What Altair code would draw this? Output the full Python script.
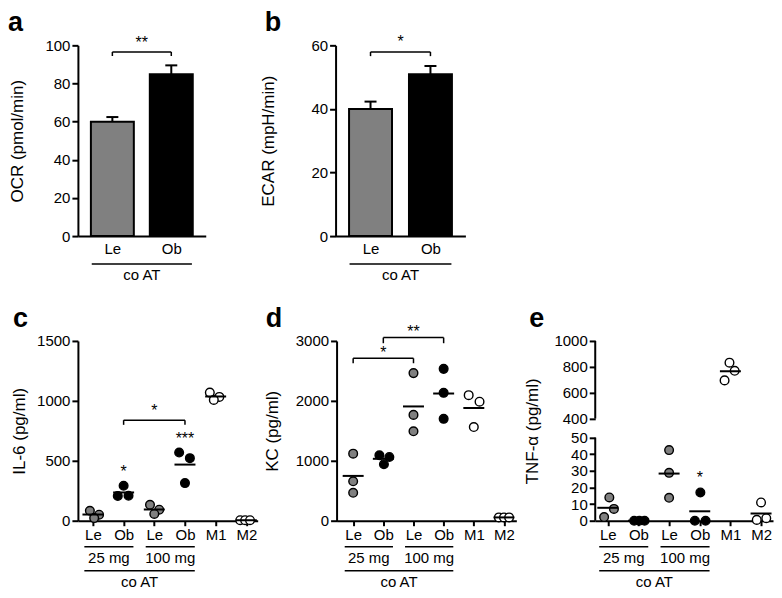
import json
import altair as alt
import pandas as pd

FONT = "Liberation Sans"
GRAY = "#808080"
KIND_DOMAIN = ["lean", "obese", "macro"]
KIND_RANGE = [GRAY, "black", "#ffffff"]

# ---------------- panels a and b (mean + SEM bars) ----------------
bar_groups = ["Le", "Ob"]
bar_kind = ["lean", "obese"]
ocr_mean = [60.0, 84.8]
ocr_sem = [2.4, 4.7]
ecar_mean = [40.0, 50.9]
ecar_sem = [2.3, 2.6]

# ---------------- panels c, d, e (dot plots) ----------------
dot_groups = ["Le", "Ob", "Le", "Ob", "M1", "M2"]
dot_kind = ["lean", "obese", "lean", "obese", "macro", "macro"]
il6_values = [[83, 50, 22], [292, 207, 208], [133, 92, 56], [569, 522, 314],
              [1069, 1033, 1008], [4, 4, 4]]
il6_jitter = [[-0.10, 0.20, 0.04], [0.00, -0.19, 0.16], [-0.14, 0.16, 0.00],
              [-0.19, 0.16, 0.00], [-0.19, 0.12, -0.06], [-0.20, -0.04, 0.12]]
kc_values = [[1119, 658, 466], [1092, 1064, 943], [2463, 1766, 1492],
             [2534, 2134, 1700], [2095, 1986, 1563], [55, 55, 55]]
kc_jitter = [[0, 0, 0], [-0.13, 0.20, 0.02], [0, 0, 0], [0, 0, 0],
             [-0.17, 0.19, 0.0], [-0.17, 0.0, 0.17]]
tnf_values = [[2.2, 14.0, 7.1], [0, 0, 0], [42.5, 28.8, 13.8], [17.0, 0, 0],
              [832, 769, 695], [11.0, 0.5, 1.5]]
tnf_jitter = [[-0.12, 0.05, 0.20], [-0.14, 0.03, 0.20], [0, 0, 0],
              [0.02, -0.16, 0.19], [-0.03, 0.14, -0.19], [0.0, -0.14, 0.17]]

# significance annotations
a_brackets = [{"x1": 0, "x2": 1, "y": 96.5, "yend": 94.4}]
a_stars = [{"x": 0.5, "y": 103, "t": "**"}]
b_brackets = [{"x1": 0, "x2": 1, "y": 57.9, "yend": 56.6}]
b_stars = [{"x": 0.5, "y": 61.9, "t": "*"}]
c_brackets = [{"x1": 1, "x2": 3, "y": 839, "yend": 800}]
c_stars = [{"x": 2, "y": 944, "t": "*"}, {"x": 1, "y": 431, "t": "*"},
           {"x": 3, "y": 708, "t": "***"}]
d_brackets = [{"x1": 0, "x2": 2, "y": 2710, "yend": 2628},
              {"x1": 1, "x2": 3, "y": 3056, "yend": 2962}]
d_stars = [{"x": 1, "y": 2852, "t": "*"}, {"x": 2, "y": 3192, "t": "**"}]
e_brackets = []
e_stars = [{"x": 3, "y": 27.3, "t": "*"}]

dose_labels = ["25 mg", "100 mg"]
dose_spans = [(-0.28, 1.32), (1.72, 3.32)]
group_label = "co AT"


def label_expr(names):
    return json.dumps(names) + "[datum.value]"


def kind_fill(field):
    return alt.Fill(field, scale=alt.Scale(domain=KIND_DOMAIN, range=KIND_RANGE), legend=None)


def letter_layer(letter, lx):
    return alt.Chart(pd.DataFrame({"t": [letter]})).mark_text(
        align="left", baseline="alphabetic", fontSize=27, fontWeight="bold",
        font=FONT, color="black").encode(
        x=alt.value(lx), y=alt.value(-14), text="t:N")


def annotation_layers(xs, ys, xaxis, yaxis, brackets, stars):
    layers = []
    if brackets:
        bdf = pd.DataFrame(brackets)
        layers.append(alt.Chart(bdf).mark_rule(strokeWidth=1.5, color="black").encode(
            x=alt.X("x1:Q", scale=xs, axis=xaxis), x2="x2:Q",
            y=alt.Y("y:Q", scale=ys, axis=yaxis)))
        layers.append(alt.Chart(bdf).transform_fold(["x1", "x2"], as_=["side", "xe"]).mark_rule(
            strokeWidth=1.5, color="black").encode(
            x=alt.X("xe:Q", scale=xs, axis=xaxis),
            y=alt.Y("y:Q", scale=ys, axis=yaxis), y2="yend:Q"))
    if stars:
        layers.append(alt.Chart(pd.DataFrame(stars)).mark_text(
            fontSize=16, font=FONT, baseline="middle", dy=3, color="black").encode(
            x=alt.X("x:Q", scale=xs, axis=xaxis),
            y=alt.Y("y:Q", scale=ys, axis=yaxis), text="t:N"))
    return layers


def underline_layers(xs, xaxis, spans, labels, y_line, y_text):
    df = pd.DataFrame({"x1": [s[0] for s in spans], "x2": [s[1] for s in spans],
                       "label": labels})
    df["xm"] = (df["x1"] + df["x2"]) / 2
    rule = alt.Chart(df).mark_rule(strokeWidth=1.5, color="black").encode(
        x=alt.X("x1:Q", scale=xs, axis=xaxis), x2="x2:Q", y=alt.value(y_line))
    text = alt.Chart(df).mark_text(fontSize=15, font=FONT, baseline="middle",
                                   color="black").encode(
        x=alt.X("xm:Q", scale=xs, axis=xaxis), y=alt.value(y_text), text="label:N")
    return [rule, text]


def bar_panel(means, sems, ytitle, ymax, yvals, letter, lx, title_x, width, height,
              brackets, stars):
    df = pd.DataFrame({"pos": list(range(len(bar_groups))), "kind": bar_kind,
                       "mean": means, "sem": sems})
    xs = alt.Scale(domain=[-0.5, len(bar_groups) - 0.5], nice=False, zero=False)
    ys = alt.Scale(domain=[0, ymax], nice=False)
    xaxis = alt.Axis(values=list(range(len(bar_groups))), labelExpr=label_expr(bar_groups),
                     title=None, ticks=False, tickSize=0, labelPadding=5, labelAngle=0,
                     labelFlush=False, labelOverlap=False)
    yaxis = alt.Axis(values=yvals, title=ytitle, tickSize=6, labelPadding=2, format="d",
                     titleX=title_x, titleY=height / 2, titleAngle=270,
                     titleAlign="center", titleBaseline="bottom")
    base = alt.Chart(df)
    bars = base.mark_bar(size=43, orient="vertical", stroke="black", strokeWidth=2,
                         opacity=1).encode(
        x=alt.X("pos:Q", scale=xs, axis=xaxis),
        y=alt.Y("mean:Q", scale=ys, axis=yaxis, stack=None),
        fill=kind_fill("kind:N"))
    err = base.transform_calculate(top="datum.mean + datum.sem").mark_rule(
        strokeWidth=2, color="black", opacity=1).encode(
        x=alt.X("pos:Q", scale=xs, axis=xaxis),
        y=alt.Y("mean:Q", scale=ys, axis=yaxis), y2="top:Q")
    cap = base.transform_calculate(top="datum.mean + datum.sem").mark_tick(
        orient="horizontal", size=12, thickness=2, color="black", opacity=1).encode(
        x=alt.X("pos:Q", scale=xs, axis=xaxis),
        y=alt.Y("top:Q", scale=ys, axis=yaxis))
    layers = [bars, err, cap]
    layers += annotation_layers(xs, ys, xaxis, yaxis, brackets, stars)
    layers += underline_layers(xs, xaxis, [(-0.35, len(bar_groups) - 1 + 0.35)],
                               [group_label], height + 28, height + 39)
    layers.append(letter_layer(letter, lx))
    return alt.layer(*layers).properties(width=width, height=height)


def dot_panel(values, jitter, ytitle, ys, yvals, letter, lx, title_x, xdom, width, height,
              brackets, stars, segments=None):
    rows = []
    for i, (vals, dxs) in enumerate(zip(values, jitter)):
        for v, dx in zip(vals, dxs):
            rows.append({"pos": i, "x": i + dx, "value": v, "kind": dot_kind[i]})
    df = pd.DataFrame(rows)
    xs = alt.Scale(domain=xdom, nice=False, zero=False)
    xaxis = alt.Axis(values=list(range(len(dot_groups))), labelExpr=label_expr(dot_groups),
                     title=None, tickSize=5, labelPadding=2, labelAngle=0,
                     labelFlush=False, labelOverlap=False)
    yaxis = alt.Axis(values=yvals, title=ytitle, tickSize=6, labelPadding=2, format="d",
                     titleX=title_x, titleY=height / 2, titleAngle=270,
                     titleAlign="center", titleBaseline="bottom",
                     domain=segments is None, labelOverlap=False)
    pts = alt.Chart(df).mark_point(filled=True, shape="circle", size=75, stroke="black",
                                   strokeWidth=1.4, opacity=1).encode(
        x=alt.X("x:Q", scale=xs, axis=xaxis),
        y=alt.Y("value:Q", scale=ys, axis=yaxis),
        fill=kind_fill("kind:N"))
    means = alt.Chart(df).transform_aggregate(m="mean(value)", groupby=["pos"]).mark_tick(
        orient="horizontal", size=21, thickness=2, color="black", opacity=1).encode(
        x=alt.X("pos:Q", scale=xs, axis=xaxis),
        y=alt.Y("m:Q", scale=ys, axis=yaxis))
    layers = [pts, means]
    if segments:
        sdf = pd.DataFrame({"y": [s[0] for s in segments], "y2": [s[1] for s in segments]})
        layers.append(alt.Chart(sdf).mark_rule(strokeWidth=2, color="black").encode(
            x=alt.value(0), y=alt.Y("y:Q", scale=ys, axis=yaxis), y2="y2:Q"))
    layers += annotation_layers(xs, ys, xaxis, yaxis, brackets, stars)
    layers += underline_layers(xs, xaxis, dose_spans, dose_labels, height + 26, height + 37)
    layers += underline_layers(xs, xaxis, [(dose_spans[0][0], dose_spans[1][1])],
                               [group_label], height + 50, height + 61)
    layers.append(letter_layer(letter, lx))
    return alt.layer(*layers).properties(width=width, height=height)


TOP_H = 191
BOT_H = 180

panel_a = bar_panel(ocr_mean, ocr_sem, "OCR (pmol/min)", 100, [0, 20, 40, 60, 80, 100],
                    "a", -70, -51, 128, TOP_H, a_brackets, a_stars)
panel_b = bar_panel(ecar_mean, ecar_sem, "ECAR (mpH/min)", 60, [0, 20, 40, 60],
                    "b", -71, -58, 130, TOP_H, b_brackets, b_stars)

panel_c = dot_panel(il6_values, il6_jitter, "IL-6 (pg/ml)",
                    alt.Scale(domain=[0, 1500], nice=False), [0, 500, 1000, 1500],
                    "c", -65, -49, [-0.49, 5.37], 180, BOT_H, c_brackets, c_stars)
panel_d = dot_panel(kc_values, kc_jitter, "KC (pg/ml)",
                    alt.Scale(domain=[0, 3000], nice=False), [0, 1000, 2000, 3000],
                    "d", -71, -55, [-0.55, 5.41], 180, BOT_H, d_brackets, d_stars)
panel_e = dot_panel(tnf_values, tnf_jitter, "TNF-α (pg/ml)",
                    alt.Scale(domain=[0, 50, 400, 1000], range=[BOT_H, 96.8, 77.7, 0],
                              nice=False, zero=False),
                    [0, 10, 20, 30, 40, 50, 400, 600, 800, 1000],
                    "e", -66, -54, [-0.41, 5.39], 178, BOT_H, e_brackets, e_stars,
                    segments=[(0, 50), (400, 1000)])

top_row = alt.hconcat(panel_a, panel_b, spacing=130, bounds="flush")
bottom_row = alt.hconcat(panel_c, panel_d, panel_e, spacing=79, bounds="flush")

chart = alt.vconcat(top_row, bottom_row, spacing=22).properties(
    padding={"top": 1, "left": 0, "right": 0, "bottom": 0}
).resolve_scale(fill="shared").configure_view(stroke=None).configure_axis(
    labelFont=FONT, titleFont=FONT, labelFontSize=15, titleFontSize=17,
    titleFontWeight="normal", labelColor="black", titleColor="black",
    domainColor="black", tickColor="black", domainWidth=2, tickWidth=2, grid=False
)

chart.save("out.html", embed_options={"renderer": "svg", "actions": False})
